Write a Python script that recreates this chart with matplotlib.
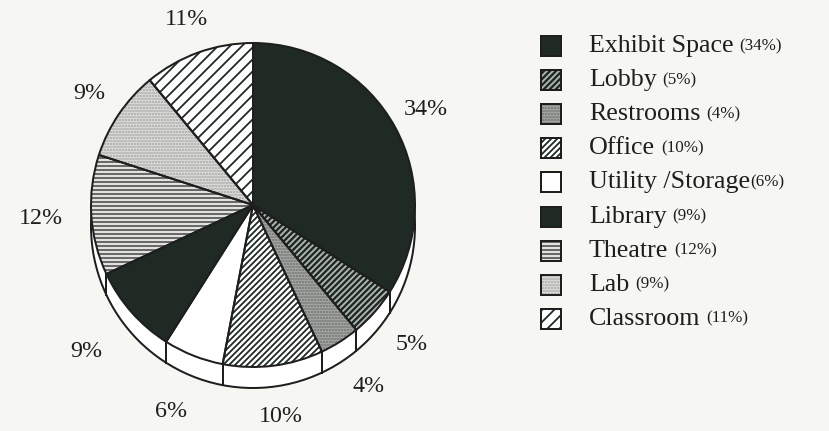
import matplotlib
matplotlib.use('Agg')
import matplotlib.pyplot as plt
from matplotlib.patches import Circle, Rectangle
import numpy as np

# data (clockwise from 12 o'clock)
categories = ['Exhibit Space', 'Lobby', 'Restrooms', 'Office', 'Utility /Storage',
              'Library', 'Theatre', 'Lab', 'Classroom']
shares = [34, 5, 4, 10, 6, 9, 12, 9, 11]

W, H = 829, 431
dark = '#1f2a25'
paper = '#f6f6f3'
ink = '#1e1e1e'

faces = [dark, dark, '#a9aba8', 'white', 'white', dark, '#e2e3e0', '#dfe0dd', 'white']
hatches = [None, '////', '....', '////', None, None, '---', '....', '//']
hatch_cols = [dark, '#b4b9b4', '#6f726f', dark, dark, dark, '#5a5d5a', '#a5a7a4', dark]

plt.rcParams['font.family'] = 'Liberation Serif'
plt.rcParams['hatch.linewidth'] = 1.8

fig = plt.figure(figsize=(W / 72, H / 72), dpi=72, facecolor=paper)
ax = fig.add_axes([0, 0, 1, 1])
ax.set_facecolor(paper)

cx, cy = 253, H - 205   # pie centre (y in data coords)
R = 162
depth = 21

# rim of the tilted pie
ax.add_patch(Circle((cx, cy - depth), R, facecolor='white', edgecolor=ink, lw=2, zorder=1))
bounds = 90 - 360 * np.cumsum(shares) / sum(shares)
for a in bounds:
    s = np.sin(np.radians(a))
    if s < -0.05:
        x0 = cx + R * np.cos(np.radians(a))
        y0 = cy + R * s
        ax.plot([x0, x0], [y0, y0 - depth], color=ink, lw=2, zorder=1.5)

common = dict(startangle=90, counterclock=False, center=(cx, cy), radius=R)
fill, _ = ax.pie(shares, colors=faces, wedgeprops=dict(linewidth=0, zorder=2), **common)
hat, _ = ax.pie(shares, colors=['none'] * len(shares), hatch=hatches,
                wedgeprops=dict(linewidth=0, zorder=3), **common)
for w, hc in zip(hat, hatch_cols):
    w.set_edgecolor(hc)
    w.set_linewidth(0)
outline, _, pct = ax.pie(shares, colors=['none'] * len(shares), autopct='%.0f%%',
                         pctdistance=1.22,
                         textprops=dict(fontsize=24, color=ink),
                         wedgeprops=dict(linewidth=2, edgecolor=ink, zorder=4), **common)
# push the lower labels clear of the rim
for t in pct:
    x, y = t.get_position()
    d0 = np.hypot(x - cx, y - cy)
    c, s = (x - cx) / d0, (y - cy) / d0
    if s < 0:
        d = d0 + depth * (-s) + 14 * max(0, -c)
        t.set_position((cx + d * c, max(cy + d * s, 15)))

ax.set_xlim(0, W)
ax.set_ylim(0, H)
ax.set_aspect('equal')
ax.axis('off')

# legend
row0, step = 46, 34.1
for i, (name, v) in enumerate(zip(categories, shares)):
    yy = H - (row0 + step * i)
    ax.add_patch(Rectangle((541, yy - 10), 20, 20, facecolor=faces[i], edgecolor=ink,
                           lw=2, zorder=2))
    if hatches[i]:
        ax.add_patch(Rectangle((541, yy - 10), 20, 20, facecolor='none',
                               edgecolor=hatch_cols[i], hatch=hatches[i], lw=0, zorder=3))
        ax.add_patch(Rectangle((541, yy - 10), 20, 20, facecolor='none', edgecolor=ink,
                               lw=2, zorder=4))
    ax.text(589, yy, name, fontsize=26, color=ink, va='center', ha='left')

fig.canvas.draw()
r = fig.canvas.get_renderer()
inv = ax.transData.inverted()
for t in [tt for tt in ax.texts if tt.get_text() in categories]:
    bb = t.get_window_extent(renderer=r)
    name = t.get_text()
    gap = 0 if name.startswith('Utility') else 6
    v = shares[categories.index(name)]
    x1 = inv.transform((bb.x1, bb.y0))[0]
    ax.text(x1 + gap, t.get_position()[1], f'({v}%)', fontsize=17, color=ink,
            va='center', ha='left')

fig.savefig('out.png', dpi=72, facecolor=paper)
